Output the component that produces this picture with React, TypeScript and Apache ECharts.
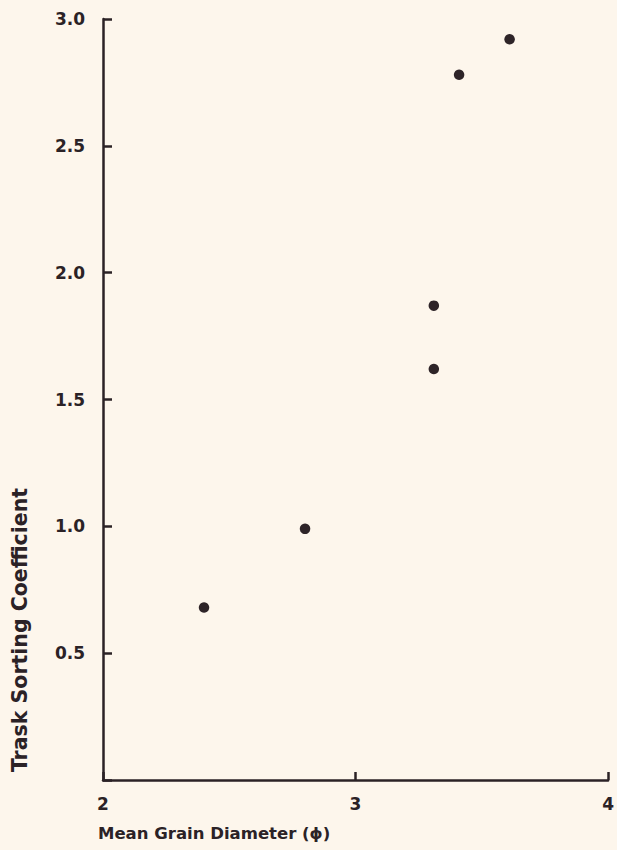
import React, { useEffect, useRef } from "react";
import * as echarts from "echarts";

const meanGrainDiameter = [2.4, 2.8, 3.31, 3.31, 3.41, 3.61];
const traskSorting = [0.68, 0.99, 1.62, 1.87, 2.78, 2.92];
const xTicks = [2, 3, 4];
const yTicks = [0.5, 1.0, 1.5, 2.0, 2.5, 3.0];

const ink = "#2b2226";
const bg = "#fdf6ec";
const font = "DejaVu Sans";

export default function App() {
  const ref = useRef<HTMLDivElement>(null);
  useEffect(() => {
    if (!ref.current) return;
    const chart = echarts.init(ref.current, null, { renderer: "svg" });
    const pts = meanGrainDiameter.map((x, i) => [x, traskSorting[i]]);
    chart.setOption({
      animation: false,
      backgroundColor: bg,
      grid: { left: 103, right: 5, top: 19, bottom: 70, containLabel: false },
      xAxis: {
        type: "value",
        min: xTicks[0],
        max: xTicks[xTicks.length - 1],
        interval: 1,
        axisLine: { show: true, lineStyle: { color: ink, width: 2.5 } },
        axisTick: { show: true, inside: true, length: 8, lineStyle: { color: ink, width: 2.5 } },
        axisLabel: {
          color: ink,
          fontFamily: font,
          fontWeight: "bold",
          fontSize: 17,
          margin: 15,
          showMaxLabel: true,
          showMinLabel: true,
        },
        splitLine: { show: false },
      },
      yAxis: {
        type: "value",
        min: 0,
        max: yTicks[yTicks.length - 1],
        interval: 0.5,
        axisLine: { show: true, lineStyle: { color: ink, width: 2.5 } },
        axisTick: { show: true, inside: true, length: 9, lineStyle: { color: ink, width: 2.5 } },
        axisLabel: {
          color: ink,
          fontFamily: font,
          fontWeight: "bold",
          fontSize: 17,
          margin: 18,
          formatter: (v: number) => (yTicks.some((t) => Math.abs(t - v) < 1e-9) ? v.toFixed(1) : ""),
        },
        splitLine: { show: false },
      },
      graphic: [
        {
          type: "text",
          x: 98,
          y: 833,
          style: {
            text: "Mean Grain Diameter (ϕ)",
            fill: ink,
            font: `bold 16.5px '${font}'`,
            textAlign: "left",
            textVerticalAlign: "middle",
          },
        },
        {
          type: "text",
          x: 20,
          y: 630,
          rotation: Math.PI / 2,
          style: {
            text: "Trask Sorting Coefficient",
            fill: ink,
            font: `bold 20.5px '${font}'`,
            textAlign: "center",
            textVerticalAlign: "middle",
          },
        },
      ],
      series: [
        {
          type: "scatter",
          data: pts,
          symbol: "circle",
          symbolSize: 10.5,
          itemStyle: { color: "#2e2428", opacity: 1 },
        },
      ],
    });
    return () => chart.dispose();
  }, []);
  return (
    <div
      ref={ref}
      style={{ position: "fixed", left: 0, top: 0, width: 617, height: 850 }}
    />
  );
}
